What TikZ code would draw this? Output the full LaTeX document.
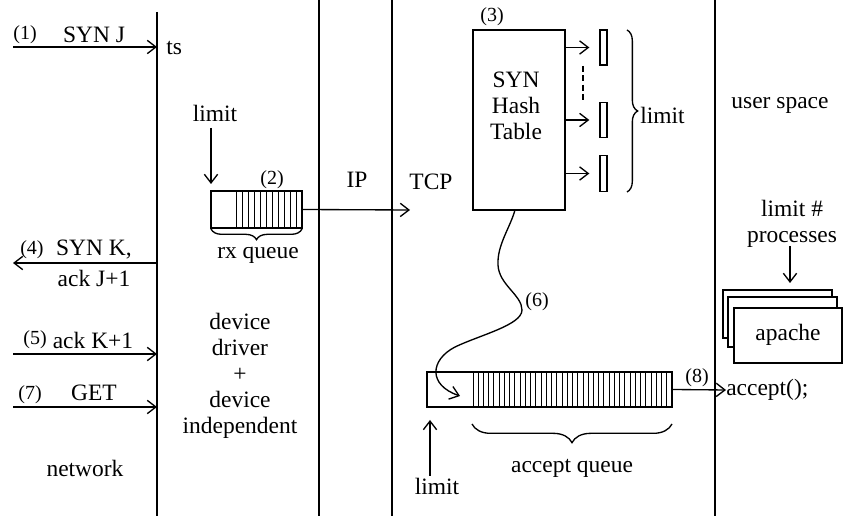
\documentclass[tikz,border=0pt]{standalone}
\usepackage{fontspec}
\setmainfont{Liberation Serif}
\usetikzlibrary{arrows.meta,decorations.pathreplacing}
\begin{document}
\begin{tikzpicture}[x=0.75pt,y=-0.75pt,
  txt/.style={font=\fontsize{17.6}{19.5}\selectfont, inner sep=0pt},
  mtxt/.style={font=\fontsize{17.6}{19.5}\selectfont, inner sep=0pt, align=center},
  num/.style={font=\fontsize{15}{16}\selectfont, inner sep=0pt},
  ln/.style={line width=1pt},
  arr/.style={line width=1pt, -{Straight Barb[length=6.5pt,width=10pt]}},
  box/.style={draw, line width=1pt, inner sep=0pt, fill=white},
  cell/.style={line width=0.7pt},
  brc/.style={line width=1pt, decorate, decoration={brace, amplitude=#1}}
]
\useasboundingbox (0,0) rectangle (844,516);

% layer separators
\draw[ln] (157,12) -- (157,516);
\draw[ln] (319,0) -- (319,516);
\draw[ln] (392,0) -- (392,516);
\draw[ln] (715,0) -- (715,516);

% ---- network side arrows
\coordinate (a1s) at (13,47);   \coordinate (a1e) at (157,47);
\coordinate (a4s) at (157,263); \coordinate (a4e) at (13,263);
\coordinate (a5s) at (13,354);  \coordinate (a5e) at (157,354);
\coordinate (a7s) at (13,407);  \coordinate (a7e) at (157,407);
\draw[arr] (a1s) -- (a1e);
\draw[arr] (a4s) -- (a4e);
\draw[arr] (a5s) -- (a5e);
\draw[arr] (a7s) -- (a7e);

\node[num] (n1) at (25,35) {(1)};
\node[txt] (synj) at (94,35) {SYN J};
\node[txt, anchor=west] (ts) at (166,48) {ts};
\node[num] (n4) at (32,250) {(4)};
\node[txt] (synk) at (94,250) {SYN K,};
\node[txt] (ackj) at (94,278) {ack J+1};
\node[num] (n5) at (35,340) {(5)};
\node[txt] (ackk) at (93,340) {ack K+1};
\node[num] (n7) at (30,395) {(7)};
\node[txt] (get) at (94,393) {GET};
\node[txt] (network) at (85,468) {network};

% ---- device layer
\node[txt] (limA) at (215,113) {limit};
\coordinate (lAs) at (211,128); \coordinate (lAe) at (211,184);
\draw[arr] (lAs) -- (lAe);
\node[num] (n2) at (272,180) {(2)};
\node[box, minimum width=68.25pt, minimum height=27.75pt] (rx) at (256.5,209.5) {};
\draw[cell] (236,191) -- (236,228);
\foreach \i in {1,...,10} \draw[cell] ({236+\i*6},191) -- ({236+\i*6},228);
\draw[brc=8pt] (302,229) -- (211,229);
\node[txt] (rxq) at (258,255) {rx queue};
\node[mtxt] (dev) at (240,376) {device\\driver\\+\\device\\independent};

% ---- IP / TCP
\node[txt] (ip) at (357,180) {IP};
\node[txt] (tcp) at (431,182) {TCP};
\coordinate (tcpin) at (410,210);
\draw[arr] (rx.east) -- (tcpin);

\node[num] (n3) at (492,17) {(3)};
\node[box, minimum width=69pt, minimum height=135pt] (hash) at (519,120) {};
\node[mtxt] (hashtxt) at (516,106) {SYN\\Hash\\Table};
\node[box, minimum width=5.25pt, minimum height=26.25pt] (q1) at (603.5,47.5) {};
\node[box, minimum width=5.25pt, minimum height=26.25pt] (q2) at (603.5,120) {};
\node[box, minimum width=5.25pt, minimum height=27pt] (q3) at (603.5,173.5) {};
\draw[arr, shorten >=7.5pt] (hash.east |- q1.west) -- (q1.west);
\draw[arr, shorten >=7.5pt] (hash.east |- q2.west) -- (q2.west);
\draw[arr, shorten >=7.5pt] (hash.east |- q3.west) -- (q3.west);
\draw[ln, dash pattern=on 4.5pt off 2.5pt] (583,66) -- (583,101);
\draw[brc=8pt] (627,30) -- (627,192);
\node[txt, anchor=west] (limB) at (640,115) {limit};

% ---- accept queue
\node[box, minimum width=183.75pt, minimum height=26.25pt] (aq) at (549.5,389.5) {};
\draw[cell] (473,372) -- (473,407);
\foreach \i in {1,...,37} \draw[cell] ({473+\i*5.237},372) -- ({473+\i*5.237},407);
\draw[brc=14pt] (672,424) -- (472,424);
\node[txt] (aqt) at (572,468) {accept queue};
\node[txt] (limC) at (437,486) {limit};
\coordinate (lCs) at (430,476); \coordinate (lCe) at (430,420);
\draw[arr] (lCs) -- (lCe);

% ---- (6) curve
\coordinate (c6s) at (515,210);
\coordinate (c6e) at (460,396);
\draw[arr] (c6s) .. controls (510,228) and (497,245) .. (498,265)
  .. controls (499,285) and (522,295) .. (522,310)
  .. controls (522,325) and (480,335) .. (455,347)
  .. controls (430,360) and (428,385) .. (c6e);
\node[num] (n6) at (537,302) {(6)};

% ---- (8) accept
\node[num] (n8) at (697,378) {(8)};
\node[txt, anchor=west] (accept) at (726,390) {accept();};
\draw[arr] (aq.east) -- (accept.west);

% ---- user space
\node[txt] (us) at (780,105) {user space};
\node[mtxt] (limP) at (792,224) {limit \#\\processes};
\coordinate (lPs) at (790,246); \coordinate (lPe) at (790,283);
\draw[arr] (lPs) -- (lPe);
\draw[box] (723,290) rectangle (832,338);
\draw[box] (728,297) rectangle (837,347);
\node[box, minimum width=81pt, minimum height=41.25pt] (ap) at (788,335.5) {};
\node[txt] (apt) at (788,335) {apache};
\end{tikzpicture}
\end{document}
